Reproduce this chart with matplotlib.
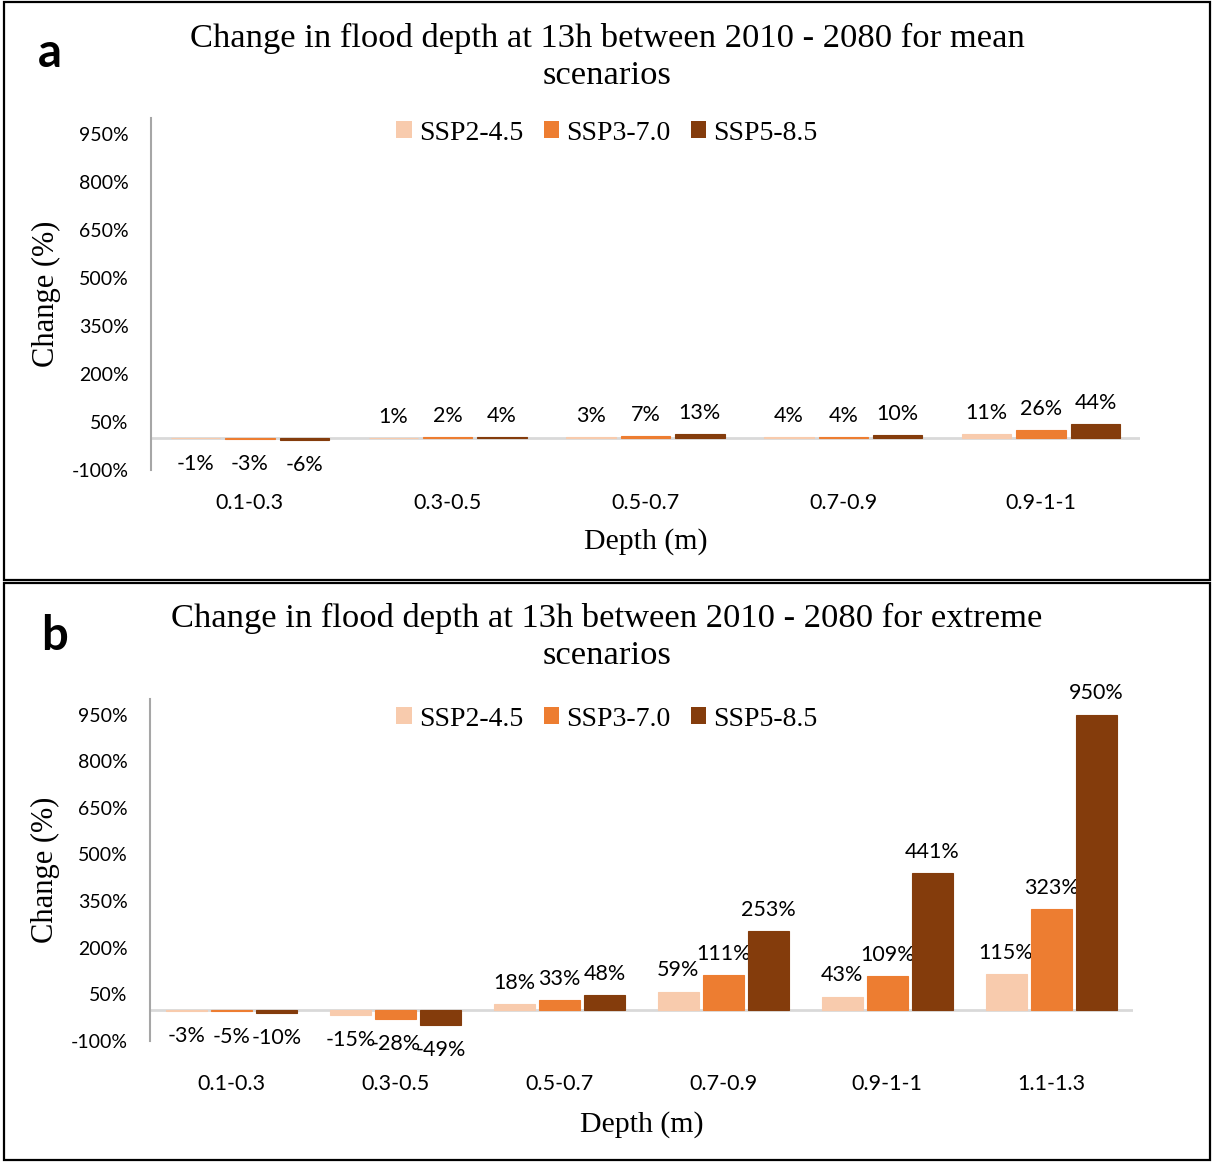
import matplotlib
matplotlib.use("Agg")
import matplotlib.pyplot as plt
from matplotlib.patches import Patch, Rectangle
import numpy as np

# --- data ---
scenarios = ["SSP2-4.5", "SSP3-7.0", "SSP5-8.5"]
colors = ["#F8CBAD", "#ED7D31", "#843C0C"]

depth_mean = ["0.1-0.3", "0.3-0.5", "0.5-0.7", "0.7-0.9", "0.9-1-1"]
mean_ssp245 = [-1, 1, 3, 4, 11]
mean_ssp370 = [-3, 2, 7, 4, 26]
mean_ssp585 = [-6, 4, 13, 10, 44]

depth_ext = ["0.1-0.3", "0.3-0.5", "0.5-0.7", "0.7-0.9", "0.9-1-1", "1.1-1.3"]
ext_ssp245 = [-3, -15, 18, 59, 43, 115]
ext_ssp370 = [-5, -28, 33, 111, 109, 323]
ext_ssp585 = [-10, -49, 48, 253, 441, 950]

yticks = [-100, 50, 200, 350, 500, 650, 800, 950]

W, H = 1212, 1162
SERIF = "Liberation Serif"
SANS = "Lato"


def px(x0, y0, x1, y1):
    """pixel box (top-left origin) -> figure fraction rect"""
    return [x0 / W, 1 - y1 / H, (x1 - x0) / W, (y1 - y0) / H]


def draw_panel(fig, rect, cats, series, title, letter, letter_xy, title_y, legend_y,
               xpad, xlabelpad):
    ax = fig.add_axes(px(*rect))
    x = np.arange(len(cats))
    width, step = 0.25, 0.275
    for i, (vals, col) in enumerate(zip(series, colors)):
        xs = x + (i - 1) * step
        ax.bar(xs, vals, width, color=col, edgecolor=col, linewidth=0.8, zorder=3)
        for xi, v in zip(xs, vals):
            if v >= 0:
                ax.annotate(f"{v}%", (xi, v), xytext=(0, 8), textcoords="offset points",
                            ha="center", va="bottom", fontsize=15.5, family=SANS)
            else:
                ax.annotate(f"{v}%", (xi, v), xytext=(0, -11), textcoords="offset points",
                            ha="center", va="top", fontsize=15.5, family=SANS)

    ax.axhline(0, color="#D9D9D9", lw=2, zorder=2)
    ax.set_xlim(-0.5, len(cats) - 0.5)
    ax.set_ylim(-100, 1000)
    ax.set_yticks(yticks)
    ax.set_yticklabels([f"{t}%" for t in yticks], family=SANS, fontsize=14)
    ax.set_xticks(x)
    ax.set_xticklabels(cats, family=SANS, fontsize=15.5)
    ax.tick_params(axis="y", length=0, pad=16)
    ax.tick_params(axis="x", length=0, pad=xpad)
    for s in ("top", "right", "bottom"):
        ax.spines[s].set_visible(False)
    ax.spines["left"].set_color("#A6A6A6")
    ax.spines["left"].set_linewidth(1.5)

    ax.set_xlabel("Depth (m)", family=SERIF, fontsize=21.5, labelpad=xlabelpad)
    ax.set_ylabel("Change (%)", family=SERIF, fontsize=22, labelpad=8)

    fig.text(607 / W, 1 - title_y / H, title, ha="center", va="center",
             family=SERIF, fontsize=24.8, linespacing=1.27)
    fig.text(letter_xy[0] / W, 1 - letter_xy[1] / H, letter, ha="center", va="center",
             family=SANS, fontweight="bold", fontsize=34)

    handles = [Patch(facecolor=c, edgecolor="none", label=s) for c, s in zip(colors, scenarios)]
    ax.legend(handles=handles, loc="center", bbox_to_anchor=(607 / W, 1 - legend_y / H),
              bbox_transform=fig.transFigure, ncol=3, frameon=False,
              prop={"family": SERIF, "size": 20}, handlelength=0.55, handleheight=0.55,
              handletextpad=0.25, columnspacing=0.75, borderpad=0)
    return ax


fig = plt.figure(figsize=(W / 100, H / 100), dpi=100)

draw_panel(fig, (151, 118, 1140, 470), depth_mean,
           [mean_ssp245, mean_ssp370, mean_ssp585],
           "Change in flood depth at 13h between 2010 - 2080 for mean\nscenarios",
           "a", (50, 53), 57, 133, xpad=16.5, xlabelpad=11)

draw_panel(fig, (150, 699, 1133, 1041), depth_ext,
           [ext_ssp245, ext_ssp370, ext_ssp585],
           "Change in flood depth at 13h between 2010 - 2080 for extreme\nscenarios",
           "b", (55, 636), 637, 719, xpad=24, xlabelpad=12)

# panel borders
for (x0, y0, x1, y1) in [(4, 2, 1210, 580), (4, 583, 1210, 1160)]:
    fig.patches.append(Rectangle((x0 / W, 1 - y1 / H), (x1 - x0) / W, (y1 - y0) / H,
                                 transform=fig.transFigure, fill=False,
                                 edgecolor="black", linewidth=1.6))

fig.savefig("out.png", dpi=100)
